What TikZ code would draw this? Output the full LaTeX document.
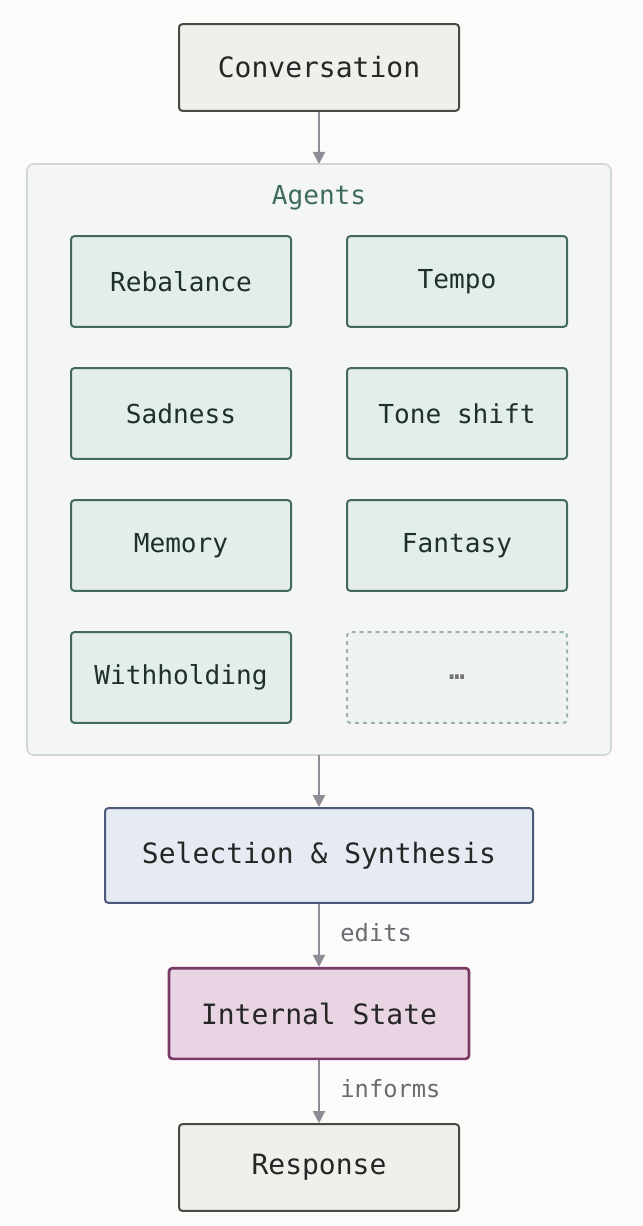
\documentclass[tikz,border=0pt]{standalone}
\usepackage{fontspec}
\setmonofont{DejaVu Sans Mono}
\usetikzlibrary{arrows.meta}
\definecolor{bg}{HTML}{FCFBFA}
\definecolor{term}{HTML}{F0EFEB}\definecolor{termb}{HTML}{4A4A45}
\definecolor{grpf}{HTML}{F4F6F6}\definecolor{grpb}{HTML}{D0D8D5}
\definecolor{agf}{HTML}{E3EEEB}\definecolor{agb}{HTML}{44675E}\definecolor{agt}{HTML}{1F2F2B}
\definecolor{dsf}{HTML}{EEF3F1}\definecolor{dsb}{HTML}{9BB5AB}
\definecolor{self}{HTML}{E6EAF3}\definecolor{selb}{HTML}{4A5A78}
\definecolor{isf}{HTML}{E8D4E2}\definecolor{isb}{HTML}{7A3A66}
\definecolor{arr}{HTML}{8E8C96}\definecolor{lab}{HTML}{6B6A72}
\definecolor{grpt}{HTML}{3F6B5F}
\begin{document}
\begin{tikzpicture}[x=0.75pt,y=-0.75pt,
 box/.style={rectangle,rounded corners=2.5pt,line width=1.5pt,font=\ttfamily\fontsize{21}{24}\selectfont},
 term/.style={box,fill=term,draw=termb,text=black!85,minimum width=210pt,minimum height=65pt},
 agent/.style={box,fill=agf,draw=agb,text=agt,minimum width=165pt,minimum height=68pt,font=\ttfamily\fontsize{19.6}{22}\selectfont},
 arrow/.style={draw=arr,line width=1.5pt,-{Triangle[length=9pt,width=9pt]}},
 lbl/.style={font=\ttfamily\fontsize{17.8}{20}\selectfont,text=lab,anchor=west}]
\fill[bg] (0,0) rectangle (642,1226);
\draw[fill=grpf,draw=grpb,line width=1.2pt,rounded corners=5pt] (27,164) rectangle (611,755);
\node[font=\ttfamily\fontsize{19.6}{22}\selectfont,text=grpt] (ag) at (319,198) {Agents};
\node[term] (conv) at (319,67.5) {Conversation};
\node[agent] (a1) at (181,281.5) {Rebalance};
\node[agent] (a2) at (457,281.5) {Tempo};
\node[agent] (a3) at (181,413.5) {Sadness};
\node[agent] (a4) at (457,413.5) {Tone shift};
\node[agent] (a5) at (181,545.5) {Memory};
\node[agent] (a6) at (457,545.5) {Fantasy};
\node[agent] (a7) at (181,677.5) {Withholding};
\node[agent,fill=dsf,draw=dsb,dashed,text=gray!90!black,font=\ttfamily\bfseries\fontsize{19.6}{22}\selectfont] (a8) at (457,677.5) {…};
\coordinate (gt) at (319,164);
\coordinate (gb) at (319,755);
\node[box,fill=self,draw=selb,text=black!85,minimum width=321pt,minimum height=71pt] (sel) at (319,855.5) {Selection \& Synthesis};
\node[box,fill=isf,draw=isb,line width=2pt,text=black!85,minimum width=225pt,minimum height=68pt] (is) at (319,1013.5) {Internal State};
\node[term] (resp) at (319,1167.5) {Response};
\draw[arrow] (conv) -- (gt);
\draw[arrow] (gb) -- (sel);
\draw[arrow] (sel) -- node[lbl,xshift=12pt,yshift=2pt]{edits} (is);
\draw[arrow] (is) -- node[lbl,xshift=12pt,yshift=2pt]{informs} (resp);
\end{tikzpicture}
\end{document}
